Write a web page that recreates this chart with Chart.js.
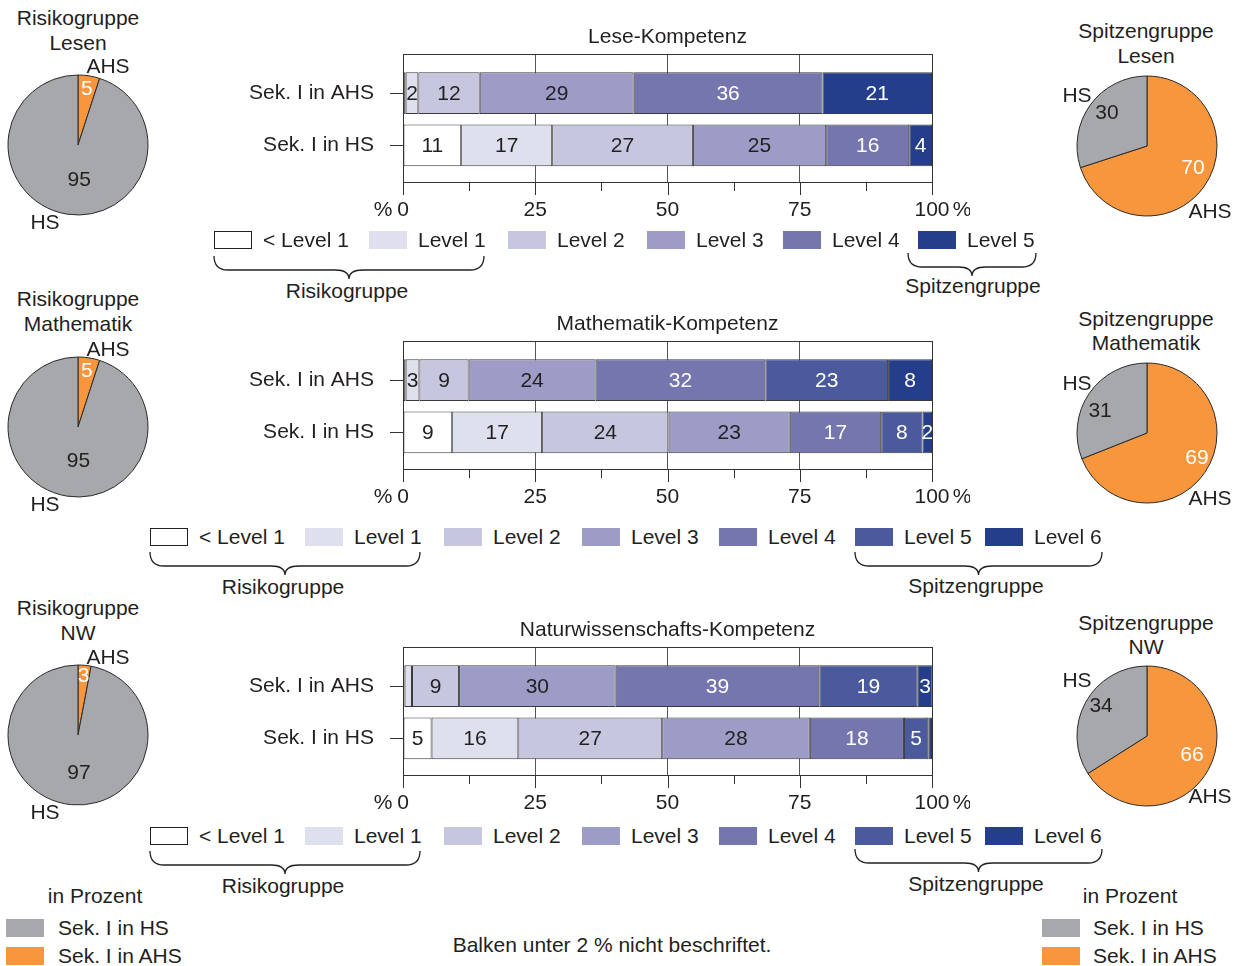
<!DOCTYPE html>
<html>
<head>
<meta charset="utf-8">
<script src="https://cdn.jsdelivr.net/npm/chart.js@4/dist/chart.umd.min.js"></script>
<style>
body { margin: 0; background: #fff; }
#page { position: relative; width: 1239px; height: 966px; overflow: hidden;
  font-family: "Liberation Sans", Arial, sans-serif; font-size: 21px; color: #231f20; }
.t { position: absolute; white-space: nowrap; line-height: 24px; transform: translate(-50%, -50%); }
.tl { position: absolute; white-space: nowrap; line-height: 24px; transform: translate(0, -50%); }
.box { position: absolute; width: 38px; height: 18px; box-sizing: border-box; }
canvas { position: absolute; }
svg { position: absolute; left: 0; top: 0; }
</style>
</head>
<body>
<div id="page">
  <svg id="braces" width="1239" height="966"></svg>
  <canvas id="barLese" width="740" height="210" style="left:230px;top:20px"></canvas>
  <canvas id="barMathe" width="740" height="210" style="left:230px;top:307px"></canvas>
  <canvas id="barNW" width="740" height="210" style="left:230px;top:613px"></canvas>
  <canvas id="pieRisikoLese" width="150" height="150" style="left:3px;top:70px"></canvas>
  <canvas id="pieSpitzeLese" width="150" height="150" style="left:1072px;top:71px"></canvas>
  <canvas id="pieRisikoMathe" width="150" height="150" style="left:3px;top:352px"></canvas>
  <canvas id="pieSpitzeMathe" width="150" height="150" style="left:1072px;top:358px"></canvas>
  <canvas id="pieRisikoNW" width="150" height="150" style="left:3px;top:660px"></canvas>
  <canvas id="pieSpitzeNW" width="150" height="150" style="left:1072px;top:661px"></canvas>
</div>
<script>
// data
var levelNames = ['< Level 1', 'Level 1', 'Level 2', 'Level 3', 'Level 4', 'Level 5', 'Level 6'];
var levelColors = ['#ffffff', '#dfe0ee', '#c6c6df', '#9c9cc6', '#7576ae', '#4b5a9c', '#243e8c'];
var leseColors = ['#ffffff', '#dfe0ee', '#c6c6df', '#9c9cc6', '#7576ae', '#243e8c'];
var groups = ['Sek. I in AHS', 'Sek. I in HS'];
var xTicks = [0, 25, 50, 75, 100];

var leseAHS = [0.5, 2.4, 11.6, 29.1, 35.7, 20.7];
var leseHS = [11, 17.2, 26.6, 25.2, 15.7, 4.3];
var matheAHS = [0.5, 2.6, 9.3, 24.0, 32.1, 23.2, 8.3];
var matheHS = [9.3, 17.0, 23.9, 22.9, 17.3, 7.8, 1.8];
var nwAHS = [0.3, 1.4, 8.9, 29.6, 38.5, 18.6, 2.8];
var nwHS = [5.4, 16.4, 27.2, 27.9, 17.8, 4.6, 0.7];

var pieLabels = ['AHS', 'HS'];
var pieColors = ['#f7963c', '#a7a8ab'];
var risikoLese = [5, 95];
var spitzeLese = [70, 30];
var risikoMathe = [5, 95];
var spitzeMathe = [69, 31];
var risikoNW = [3, 97];
var spitzeNW = [66, 34];

var FONT = '"Liberation Sans", Arial, sans-serif';
var TXT = '#231f20';
var page = document.getElementById('page');

function text(x, y, str, left) {
  var d = document.createElement('div');
  d.className = left ? 'tl' : 't';
  d.style.left = x + 'px';
  d.style.top = y + 'px';
  d.textContent = str;
  page.appendChild(d);
}
function box(x, y, color, border) {
  var d = document.createElement('div');
  d.className = 'box';
  d.style.left = x + 'px';
  d.style.top = y + 'px';
  d.style.background = color;
  if (border) d.style.border = '1px solid #231f20';
  page.appendChild(d);
}

// frame, tick marks, title, value labels
var barDecor = {
  id: 'barDecor',
  afterDatasetsDraw: function(chart) {
    var ctx = chart.ctx;
    ctx.save();
    ctx.font = '21px ' + FONT;
    ctx.textAlign = 'center';
    ctx.textBaseline = 'middle';
    chart.data.datasets.forEach(function(ds, i) {
      var meta = chart.getDatasetMeta(i);
      meta.data.forEach(function(el, j) {
        var v = ds.data[j].x;
        if (v < 1.5) return;
        var p = el.getCenterPoint();
        ctx.fillStyle = i >= 4 ? '#ffffff' : TXT;
        ctx.fillText(String(Math.round(v)), p.x, p.y + 1);
      });
    });
    ctx.restore();
  },
  afterDraw: function(chart, args, opts) {
    var ctx = chart.ctx, a = chart.chartArea, xs = chart.scales.x;
    ctx.save();
    ctx.strokeStyle = '#333';
    ctx.lineWidth = 1;
    ctx.strokeRect(Math.round(a.left) + 0.5, Math.round(a.top) + 0.5,
      Math.round(a.right - a.left), Math.round(a.bottom - a.top));
    for (var v = 0; v <= 100; v += 12.5) {
      var px = Math.round(xs.getPixelForValue(v)) + 0.5;
      var len = v % 25 === 0 ? 13 : 9;
      ctx.beginPath();
      ctx.moveTo(px, a.bottom);
      ctx.lineTo(px, a.bottom + len);
      ctx.stroke();
    }
    ctx.fillStyle = TXT;
    ctx.font = '21px ' + FONT;
    ctx.textAlign = 'center';
    ctx.textBaseline = 'middle';
    ctx.fillText(opts.title, (a.left + a.right) / 2, a.top - 17);
    ctx.fillText('%', a.left - 20, a.bottom + 28);
    ctx.fillText('%', a.right + 30, a.bottom + 28);
    ctx.restore();
  }
};

function barChart(id, title, ahs, hs, names, colors) {
  var datasets = [];
  for (var i = 0; i < ahs.length; i++) {
    datasets.push({
      label: names[i],
      data: [{ x: ahs[i], y: 0 }, { x: hs[i], y: 1 }],
      backgroundColor: colors[i],
      borderColor: '#3a3a3a',
      borderWidth: 1,
      borderSkipped: false,
      barPercentage: 0.8,
      categoryPercentage: 1
    });
  }
  new Chart(document.getElementById(id).getContext('2d'), {
    type: 'bar',
    data: { datasets: datasets },
    options: {
      responsive: false,
      animation: false,
      indexAxis: 'y',
      layout: { padding: { top: 34, right: 38, bottom: 0, left: 0 } },
      plugins: { legend: { display: false }, tooltip: { enabled: false }, barDecor: { title: title } },
      scales: {
        x: {
          type: 'linear', stacked: true, min: 0, max: 100,
          afterBuildTicks: function(s) { s.ticks = xTicks.map(function(v) { return { value: v }; }); },
          afterFit: function(s) { s.height = 48; },
          ticks: { font: { size: 21, family: FONT }, color: TXT, padding: 16, maxRotation: 0 },
          grid: {
            drawTicks: false,
            color: function(c) { return c.tick && c.tick.value > 0 && c.tick.value < 100 ? '#555' : 'rgba(0,0,0,0)'; }
          },
          border: { display: true, color: '#333' }
        },
        y: {
          type: 'linear', stacked: true, reverse: true, offset: false, min: -0.75, max: 1.7,
          afterBuildTicks: function(s) { s.ticks = [{ value: 0 }, { value: 1 }]; },
          afterFit: function(s) { s.width = 173; },
          ticks: {
            font: { size: 21, family: FONT }, color: TXT, padding: 16,
            callback: function(v) { return groups[v]; }
          },
          grid: { drawOnChartArea: false, tickLength: 13, color: '#333', offset: false },
          border: { display: true, color: '#333' }
        }
      }
    },
    plugins: [barDecor]
  });
}

var pieDecor = {
  id: 'pieDecor',
  afterDatasetsDraw: function(chart, args, opts) {
    var ctx = chart.ctx;
    var meta = chart.getDatasetMeta(0);
    var values = chart.data.datasets[0].data;
    ctx.save();
    ctx.font = '21px ' + FONT;
    ctx.textAlign = 'center';
    ctx.textBaseline = 'middle';
    meta.data.forEach(function(arc, i) {
      var mid = (arc.startAngle + arc.endAngle) / 2 + opts.shift[i];
      var r = arc.outerRadius * opts.radius[i];
      ctx.fillStyle = i === 0 ? '#ffffff' : TXT;
      ctx.fillText(String(values[i]), arc.x + Math.cos(mid) * r, arc.y + Math.sin(mid) * r);
    });
    ctx.restore();
  }
};

function pieChart(id, values, labelRadius, shift) {
  new Chart(document.getElementById(id).getContext('2d'), {
    type: 'pie',
    data: {
      labels: pieLabels,
      datasets: [{ data: values, backgroundColor: pieColors, borderColor: '#2a2a2a', borderWidth: 1 }]
    },
    options: {
      responsive: false,
      animation: false,
      radius: 70,
      plugins: { legend: { display: false }, tooltip: { enabled: false },
        pieDecor: { radius: labelRadius, shift: shift } }
    },
    plugins: [pieDecor]
  });
}

barChart('barLese', 'Lese-Kompetenz', leseAHS, leseHS, levelNames.slice(0, 6), leseColors);
barChart('barMathe', 'Mathematik-Kompetenz', matheAHS, matheHS, levelNames, levelColors);
barChart('barNW', 'Naturwissenschafts-Kompetenz', nwAHS, nwHS, levelNames, levelColors);

pieChart('pieRisikoLese', risikoLese, [0.8, 0.51], [0, -0.19]);
pieChart('pieSpitzeLese', spitzeLese, [0.73, 0.74], [-0.18, 0.06]);
pieChart('pieRisikoMathe', risikoMathe, [0.8, 0.49], [0, -0.17]);
pieChart('pieSpitzeMathe', spitzeMathe, [0.8, 0.74], [-0.13, -0.16]);
pieChart('pieRisikoNW', risikoNW, [0.84, 0.54], [0, -0.12]);
pieChart('pieSpitzeNW', spitzeNW, [0.7, 0.78], [-0.09, 0.07]);

// pie titles and slice names
text(78, 18, 'Risikogruppe'); text(78, 43, 'Lesen');
text(1146, 31, 'Spitzengruppe'); text(1146, 56, 'Lesen');
text(78, 299, 'Risikogruppe'); text(78, 324, 'Mathematik');
text(1146, 319, 'Spitzengruppe'); text(1146, 343, 'Mathematik');
text(78, 608, 'Risikogruppe'); text(78, 633, 'NW');
text(1146, 623, 'Spitzengruppe'); text(1146, 647, 'NW');

var pieNameSpots = [[108, 66, 45, 222, 1210, 211, 1077, 95], [108, 349, 45, 504, 1210, 498, 1077, 383], [108, 657, 45, 812, 1210, 796, 1077, 680]];
pieNameSpots.forEach(function(p) {
  text(p[0], p[1], pieLabels[0]); text(p[2], p[3], pieLabels[1]);
  text(p[4], p[5], pieLabels[0]); text(p[6], p[7], pieLabels[1]);
});

// level legends
function levelLegend(y, xs, names, colors) {
  for (var i = 0; i < xs.length; i++) {
    box(xs[i], y - 9, colors[i], i === 0);
    text(xs[i] + 49, y, names[i], true);
  }
}
levelLegend(240, [214, 369, 508, 647, 783, 918], levelNames.slice(0, 6), leseColors);
levelLegend(537, [150, 305, 444, 582, 719, 855, 985], levelNames, levelColors);
levelLegend(836, [150, 305, 444, 582, 719, 855, 985], levelNames, levelColors);

// braces
var svg = document.getElementById('braces');
function brace(x1, x2, y0) {
  var ym = y0 + 14, y1 = y0 + 23, xm = (x1 + x2) / 2, r = 14;
  var d = 'M' + x1 + ' ' + y0 + ' Q' + x1 + ' ' + ym + ' ' + (x1 + r) + ' ' + ym +
    ' L' + (xm - r) + ' ' + ym + ' Q' + xm + ' ' + ym + ' ' + xm + ' ' + y1 +
    ' Q' + xm + ' ' + ym + ' ' + (xm + r) + ' ' + ym +
    ' L' + (x2 - r) + ' ' + ym + ' Q' + x2 + ' ' + ym + ' ' + x2 + ' ' + y0;
  var p = document.createElementNS('http://www.w3.org/2000/svg', 'path');
  p.setAttribute('d', d);
  p.setAttribute('fill', 'none');
  p.setAttribute('stroke', '#231f20');
  p.setAttribute('stroke-width', '1.3');
  svg.appendChild(p);
}
brace(214, 484, 256); text(347, 291, 'Risikogruppe');
brace(908, 1036, 253); text(973, 286, 'Spitzengruppe');
brace(150, 420, 552); text(283, 587, 'Risikogruppe');
brace(855, 1102, 552); text(976, 586, 'Spitzengruppe');
brace(150, 420, 851); text(283, 886, 'Risikogruppe');
brace(855, 1102, 849); text(976, 884, 'Spitzengruppe');

// school type legends and note
text(95, 896, 'in Prozent');
box(6, 919, pieColors[1]); text(58, 928, 'Sek. I in HS', true);
box(6, 947, pieColors[0]); text(58, 956, 'Sek. I in AHS', true);
text(1130, 896, 'in Prozent');
box(1042, 919, pieColors[1]); text(1093, 928, 'Sek. I in HS', true);
box(1042, 947, pieColors[0]); text(1093, 956, 'Sek. I in AHS', true);
text(612, 945, 'Balken unter 2 % nicht beschriftet.');
</script>
</body>
</html>
